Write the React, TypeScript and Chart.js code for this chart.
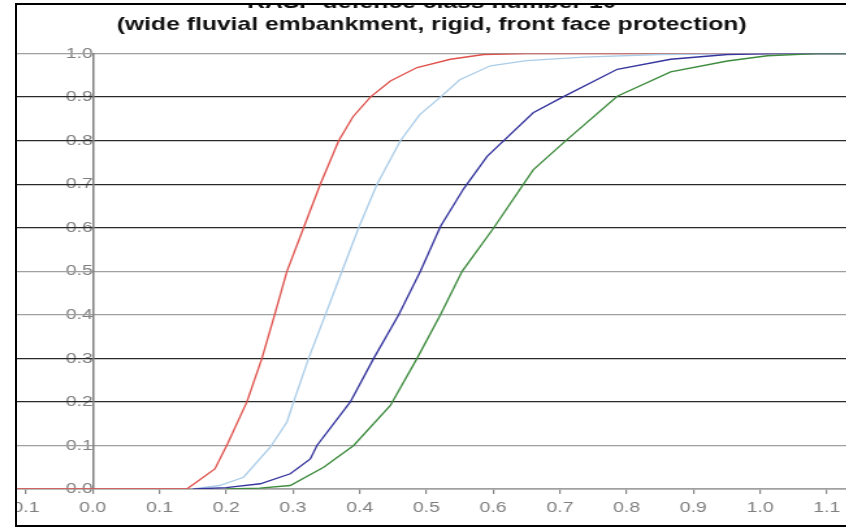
import React, { useEffect, useRef } from "react";
import { Chart, registerables } from "chart.js";

Chart.register(...registerables);

const titleLines = [
  "RASP defence class number 10",
  "(wide fluvial embankment, rigid, front face protection)",
];

const xTickMin = -0.1135;
const xTickMax = 1.1294;

const redX = [-0.12, 0.0, 0.1, 0.141, 0.183, 0.202, 0.231, 0.2535, 0.2725, 0.291, 0.316, 0.341, 0.3685, 0.39, 0.416, 0.446, 0.486, 0.536, 0.586, 0.65, 0.8, 1.0, 1.14];
const redY = [0, 0, 0, 0, 0.046, 0.104, 0.2, 0.3, 0.4, 0.5, 0.6, 0.7, 0.8, 0.855, 0.9, 0.937, 0.968, 0.987, 0.998, 1, 1, 1, 1];

const lightBlueX = [0.15, 0.19, 0.226, 0.266, 0.291, 0.301, 0.3235, 0.3485, 0.3735, 0.3985, 0.426, 0.461, 0.49, 0.521, 0.55, 0.596, 0.65, 0.736, 0.85, 1.0, 1.14];
const lightBlueY = [0, 0.008, 0.027, 0.096, 0.154, 0.2, 0.3, 0.4, 0.5, 0.6, 0.7, 0.8, 0.86, 0.9, 0.94, 0.972, 0.984, 0.992, 0.998, 1, 1];

const darkBlueX = [0.15, 0.2, 0.251, 0.296, 0.326, 0.336, 0.386, 0.421, 0.4585, 0.491, 0.521, 0.556, 0.591, 0.66, 0.704, 0.786, 0.866, 0.951, 1.02, 1.14];
const darkBlueY = [0, 0.003, 0.012, 0.035, 0.069, 0.1, 0.2, 0.3, 0.4, 0.5, 0.603, 0.69, 0.764, 0.864, 0.9, 0.964, 0.987, 0.998, 1, 1];

const greenX = [0.2, 0.25, 0.296, 0.346, 0.391, 0.446, 0.486, 0.521, 0.5535, 0.601, 0.66, 0.709, 0.786, 0.866, 0.951, 1.011, 1.086, 1.14];
const greenY = [0, 0.002, 0.008, 0.05, 0.1, 0.192, 0.3, 0.4, 0.5, 0.6, 0.733, 0.8, 0.902, 0.958, 0.983, 0.995, 1, 1];

const darkGridValues = [0.9, 0.8, 0.7, 0.6, 0.3, 0.2];

const STRETCH = 1.3;

function pts(xs: number[], ys: number[]) {
  return xs.map((x, i) => ({ x, y: ys[i] }));
}

export default function App() {
  const ref = useRef<HTMLCanvasElement | null>(null);

  useEffect(() => {
    if (!ref.current) return;
    const zeroPad = (scale: any) => {
      scale.paddingLeft = 0;
      scale.paddingRight = 0;
      scale.paddingTop = 0;
      scale.paddingBottom = 0;
    };
    const mk = (label: string, xs: number[], ys: number[], color: string) => ({
      label,
      data: pts(xs, ys),
      showLine: true,
      borderColor: color,
      backgroundColor: color,
      borderWidth: 1.35,
      pointRadius: 0,
      tension: 0,
    });
    const chart = new Chart(ref.current, {
      type: "scatter",
      data: {
        datasets: [
          mk("green", greenX, greenY, "#3d8b3d"),
          mk("darkBlue", darkBlueX, darkBlueY, "#35359e"),
          mk("lightBlue", lightBlueX, lightBlueY, "#abcde8"),
          mk("red", redX, redY, "#df524c"),
        ],
      },
      options: {
        animation: false,
        responsive: false,
        layout: { padding: 0 },
        plugins: {
          legend: { display: false },
          tooltip: { enabled: false },
          title: {
            display: true,
            text: titleLines,
            color: "#111",
            font: { family: "Arial, 'Liberation Sans', sans-serif", size: 19, weight: "bold", lineHeight: 1.2 },
            padding: { top: 11, bottom: 17 },
          },
        },
        scales: {
          x: {
            type: "linear",
            position: "bottom",
            min: xTickMin,
            max: xTickMax,
            afterFit: zeroPad,
            grid: { drawOnChartArea: false, drawTicks: true, tickLength: 5, color: "#888", lineWidth: 1.2 },
            border: { display: true, color: "#8a8a8a", width: 1.5 },
            ticks: {
              stepSize: 0.1,
              includeBounds: false,
              color: "#808080",
              padding: 5,
              maxRotation: 0,
              autoSkip: false,
              font: { family: "Arial, 'Liberation Sans', sans-serif", size: 15 },
              callback: (v: any) => Math.abs(Number(v)).toFixed(1),
            },
          },
          y: {
            type: "linear",
            position: { x: 0 } as any,
            min: 0,
            max: 1,
            afterFit: zeroPad,
            grid: {
              drawTicks: false,
              z: 0,
              lineWidth: 1.3,
              color: (ctx: any) => {
                const v = Math.round((ctx.tick ? ctx.tick.value : 0) * 10) / 10;
                return darkGridValues.includes(v) ? "#2a2a2a" : "#a0a0a0";
              },
            },
            border: { display: true, color: "#808080", width: 1.5 },
            ticks: {
              stepSize: 0.1,
              z: -1,
              color: "#808080",
              padding: 12,
              font: { family: "Arial, 'Liberation Sans', sans-serif", size: 15 },
              callback: (v: any) => Math.abs(Number(v)).toFixed(1),
            },
          },
        },
      },
    });
    return () => chart.destroy();
  }, []);

  return (
    <div
      style={{
        position: "fixed",
        left: 15,
        top: 3,
        width: 900,
        height: 520,
        border: "2px solid #000",
        overflow: "hidden",
        background: "#fff",
      }}
    >
      <canvas
        ref={ref}
        width={638}
        height={542}
        style={{
          position: "absolute",
          left: 0,
          top: -25,
          transform: `scaleX(${STRETCH})`,
          transformOrigin: "0 0",
        }}
      />
    </div>
  );
}
